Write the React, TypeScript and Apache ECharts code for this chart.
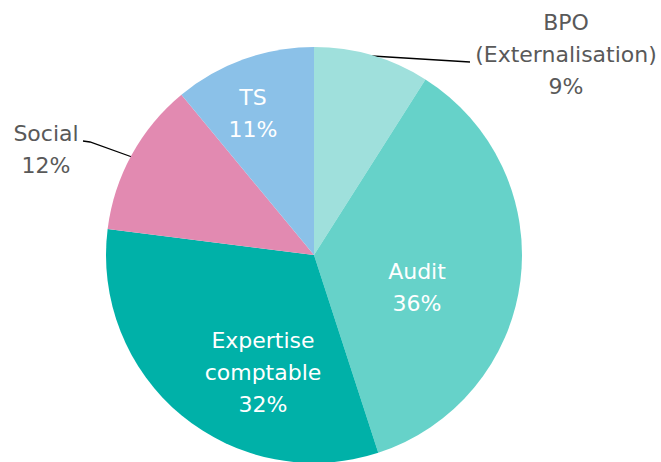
import React, { useEffect, useRef } from "react";
import * as echarts from "echarts";

const categories = ["BPO\n(Externalisation)", "Audit", "Expertise\ncomptable", "Social", "TS"];
const values = [9, 36, 32, 12, 11];
const colors = ["#9fe0dc", "#66d2c9", "#00b1a8", "#e28ab1", "#8bc1e8"];
const insideLabel = [false, true, true, false, true];

// label layout (text block centres and leader line points)
const labelPos: [number, number][] = [
  [566, 54],
  [417, 287],
  [263, 372],
  [46, 149],
  [253, 113],
];
const linePts: ([number, number][] | null)[] = [
  [[372, 56], [421, 59], [470, 62]],
  null,
  null,
  [[132, 157], [90, 142], [83, 141]],
  null,
];

export default function App() {
  const ref = useRef<HTMLDivElement>(null);
  useEffect(() => {
    const chart = echarts.init(ref.current!, null, { renderer: "svg" });
    chart.setOption({
      animation: false,
      backgroundColor: "#ffffff",
      series: [
        {
          type: "pie",
          center: [314, 255],
          radius: 208,
          startAngle: 90,
          clockwise: true,
          avoidLabelOverlap: false,
          itemStyle: { borderWidth: 0 },
          label: {
            show: true,
            position: "outside",
            formatter: (p: any) => `${p.name}\n${p.value}%`,
            fontFamily: "DejaVu Sans",
            fontSize: 22,
            lineHeight: 32,
            color: "#595959",
            align: "center",
          },
          labelLine: {
            show: true,
            lineStyle: { color: "#000000", width: 1.3 },
            smooth: false,
            minTurnAngle: 0,
            maxSurfaceAngle: 180,
          },
          labelLayout: (params: any) => {
            const i = params.dataIndex;
            const res: any = {
              x: labelPos[i][0],
              y: labelPos[i][1],
              align: "center",
              verticalAlign: "middle",
            };
            if (linePts[i]) res.labelLinePoints = linePts[i];
            return res;
          },
          data: categories.map((name, i) => ({
            name,
            value: values[i],
            itemStyle: { color: colors[i] },
            label: insideLabel[i]
              ? { color: "#ffffff" }
              : { color: "#595959" },
            labelLine: { show: !insideLabel[i] },
          })),
        },
      ],
    });
    return () => chart.dispose();
  }, []);
  return (
    <div
      ref={ref}
      style={{ position: "absolute", left: 0, top: 0, width: 661, height: 462 }}
    />
  );
}
